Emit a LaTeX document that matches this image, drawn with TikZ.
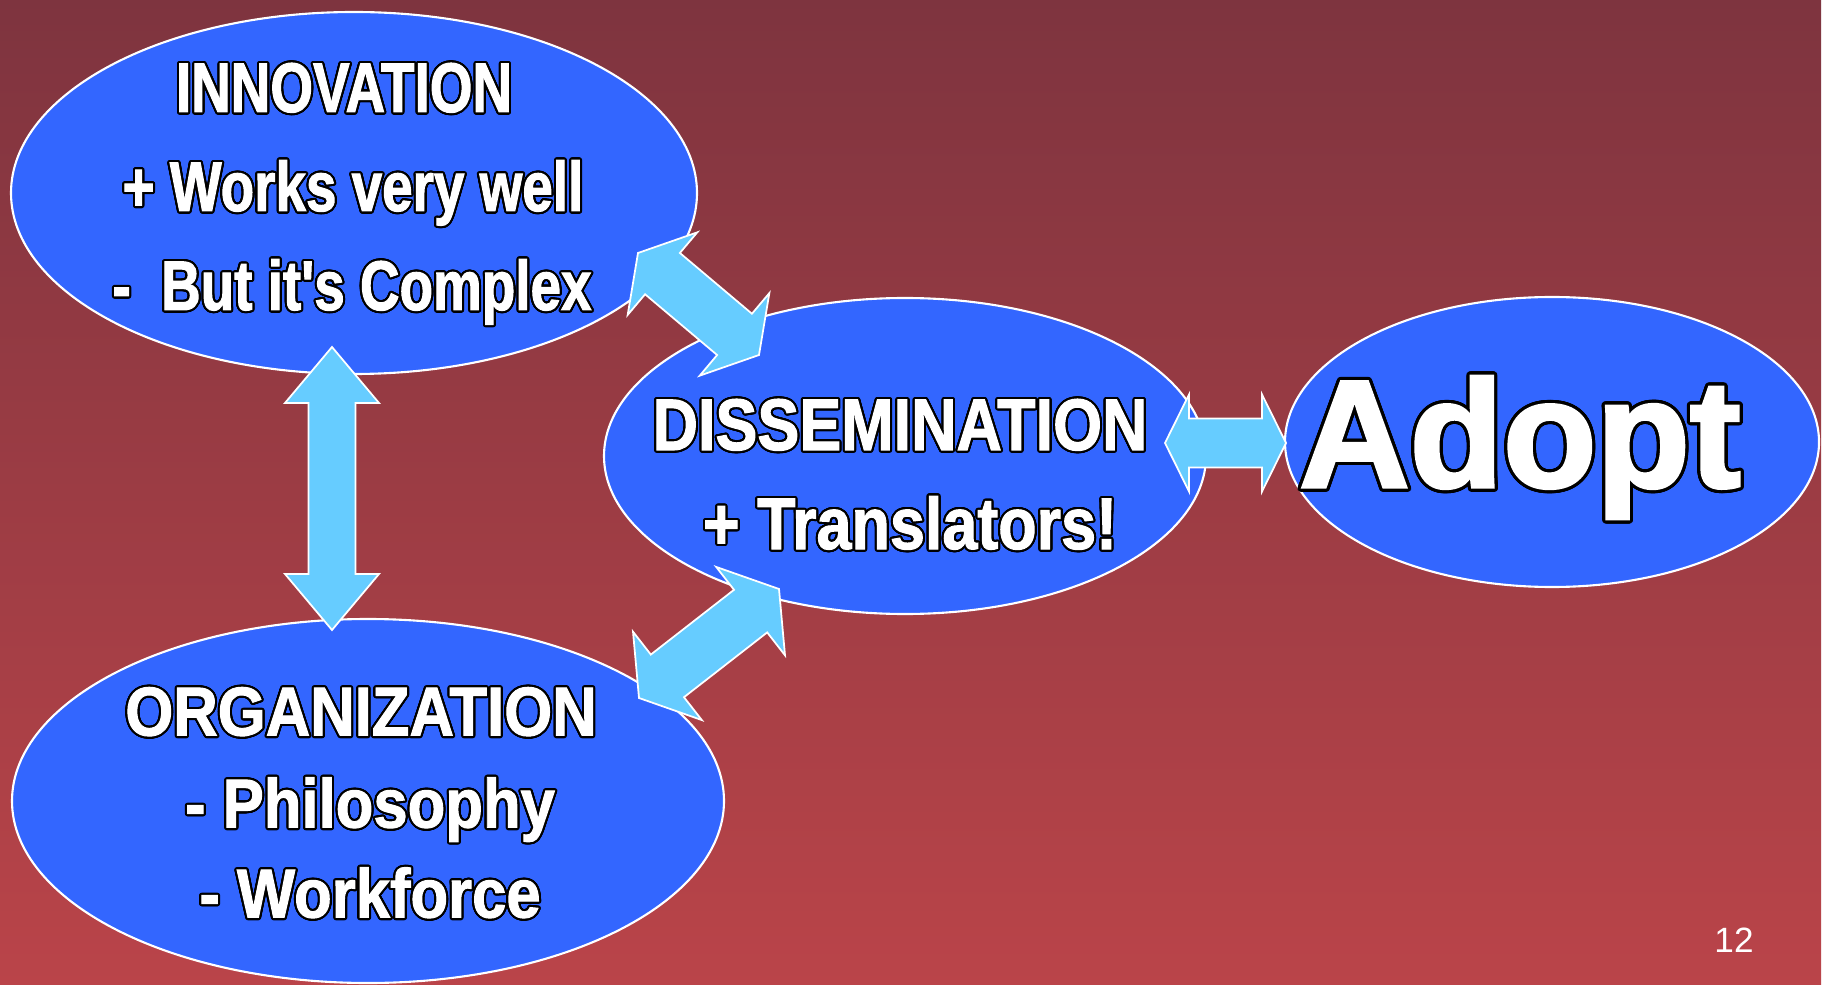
\documentclass[tikz,border=0pt]{standalone}
\usepackage{fontspec}
\usepackage[copies]{contour}
\usetikzlibrary{shapes.geometric,calc}
\setmainfont{Liberation Sans}
\newfontfamily\innf{Liberation Sans}[FakeStretch=0.78,FakeBold=1.4]
\newfontfamily\disf{Liberation Sans}[FakeStretch=0.86,FakeBold=1.4]
\newfontfamily\orgf{Liberation Sans}[FakeStretch=0.89,FakeBold=1.4]
\newfontfamily\adof{Liberation Sans}[FakeBold=2.2]
\newfontfamily\pgf{Liberation Sans}
\contourlength{0.6pt}
\contournumber{24}
\definecolor{bgtop}{RGB}{126,52,63}
\definecolor{bgbot}{RGB}{186,68,73}
\definecolor{blobblue}{RGB}{51,102,255}
\definecolor{arrblue}{RGB}{102,204,255}
% #1 name, #2 from, #3 to, #4 head length, #5 head half width, #6 shaft half width
\newcommand\dblarrow[6]{%
  \coordinate (#1p) at ($(#2)!#4!(#3)$);
  \coordinate (#1q) at ($(#3)!#4!(#2)$);
  \filldraw[fatarrow] (#2) -- ($(#1p)!#5!90:(#3)$) -- ($(#1p)!#6!90:(#3)$)
    -- ($(#1q)!#6!-90:(#2)$) -- ($(#1q)!#5!-90:(#2)$) -- (#3)
    -- ($(#1q)!#5!90:(#2)$) -- ($(#1q)!#6!90:(#2)$)
    -- ($(#1p)!#6!-90:(#3)$) -- ($(#1p)!#5!-90:(#3)$) -- cycle;}
\begin{document}
\begin{tikzpicture}[x=1cm,y=1cm,
  blobstyle/.style={ellipse, draw=white, line width=0.6pt, fill=blobblue, inner sep=0pt},
  fatarrow/.style={fill=arrblue, draw=white, line width=0.5pt, line join=miter},
  lbl/.style={text=white, inner sep=0pt, anchor=base}]
\useasboundingbox (0,0) rectangle (18.31,9.84);
\fill[white] (0,0) rectangle (18.31,9.84);
\shade[top color=bgtop, bottom color=bgbot] (0,0) rectangle (18.21,9.84);

% ellipses
\node[blobstyle, minimum width=6.86cm, minimum height=3.62cm] (inn) at (3.54,7.91) {};
\node[blobstyle, minimum width=6.02cm, minimum height=3.16cm] (dis) at (9.05,5.28) {};
\node[blobstyle, minimum width=5.34cm, minimum height=2.90cm] (ado) at (15.52,5.42) {};
\node[blobstyle, minimum width=7.12cm, minimum height=3.64cm] (org) at (3.68,1.83) {};

% arrow end points
\coordinate (v1) at (3.32,6.37);
\coordinate (v2) at (3.32,3.54);
\coordinate (d1) at (6.38,7.31);
\coordinate (d2) at (7.59,6.29);
\coordinate (e1) at (6.39,2.86);
\coordinate (e2) at (7.79,3.95);
\coordinate (h1) at (11.65,5.41);
\coordinate (h2) at (12.86,5.41);

\dblarrow{va}{v1}{v2}{0.56cm}{0.47cm}{0.235cm}
\dblarrow{da}{d1}{d2}{0.32cm}{0.54cm}{0.27cm}
\dblarrow{ea}{e1}{e2}{0.36cm}{0.56cm}{0.27cm}
\dblarrow{ha}{h1}{h2}{0.24cm}{0.485cm}{0.245cm}

% texts
\node[lbl] (inn1) at (3.44,8.72) {\innf\bfseries\fontsize{20}{24}\selectfont\contour{black}{INNOVATION}};
\node[lbl] (inn2) at (3.53,7.73) {\innf\bfseries\fontsize{20}{24}\selectfont\contour{black}{+ Works very well}};
\node[lbl] (inn3) at (3.52,6.74) {\innf\bfseries\fontsize{20}{24}\selectfont\contour{black}{-\ \ But it's Complex}};

\node[lbl] (dis1) at (9.00,5.34) {\disf\bfseries\fontsize{20.8}{24}\selectfont\contour{black}{DISSEMINATION}};
\node[lbl] (dis2) at (9.10,4.35) {\disf\bfseries\fontsize{20.8}{24}\selectfont\contour{black}{+ Translators!}};

\node[lbl] (ado1) at (15.20,4.97) {\adof\bfseries\fontsize{43.5}{50}\selectfont\contourlength{0.9pt}\contour{black}{Adopt}};

\node[lbl] (org1) at (3.61,2.485) {\orgf\bfseries\fontsize{19.7}{24}\selectfont\contour{black}{ORGANIZATION}};
\node[lbl] (org2) at (3.70,1.565) {\orgf\bfseries\fontsize{19.7}{24}\selectfont\contour{black}{- Philosophy}};
\node[lbl] (org3) at (3.70,0.665) {\orgf\bfseries\fontsize{19.7}{24}\selectfont\contour{black}{- Workforce}};

\node[text=white, inner sep=0pt] (pg) at (17.34,0.44) {\pgf\fontsize{10}{12}\selectfont 12};
\end{tikzpicture}
\end{document}
